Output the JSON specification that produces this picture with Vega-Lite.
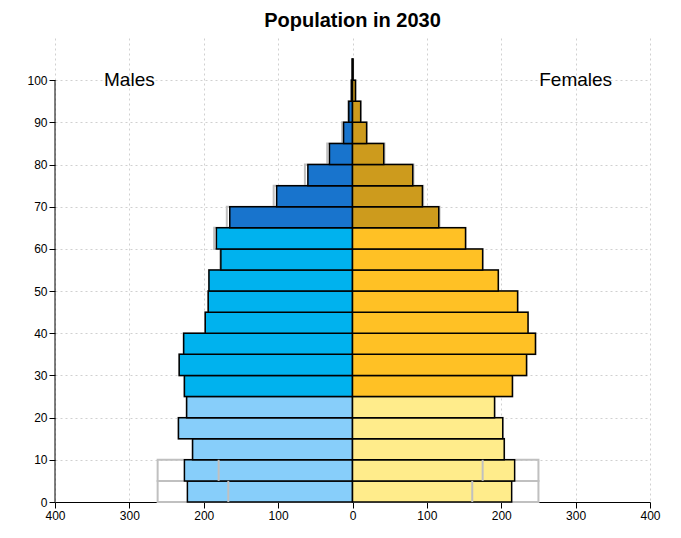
{
  "$schema": "https://vega.github.io/schema/vega-lite/v6.json",
  "autosize": {"type": "none"},
  "padding": {"left": 55, "top": 38, "right": 31, "bottom": 36},
  "width": 595,
  "height": 464,
  "background": "white",
  "view": {"stroke": null},
  "title": {"text": "Population in 2030", "font": "Liberation Sans", "fontSize": 20, "fontWeight": "bold", "color": "black", "offset": 7},
  "data": {"values": [
    {"age": 0, "top": 5, "cls": "M young", "v": -222, "ref": -262, "inner": -167},
    {"age": 5, "top": 10, "cls": "M young", "v": -226, "ref": -262, "inner": -180},
    {"age": 10, "top": 15, "cls": "M young", "v": -215, "ref": -215, "inner": null},
    {"age": 15, "top": 20, "cls": "M young", "v": -234, "ref": -234, "inner": null},
    {"age": 20, "top": 25, "cls": "M young", "v": -223, "ref": -223, "inner": null},
    {"age": 25, "top": 30, "cls": "M mid", "v": -226, "ref": -226, "inner": null},
    {"age": 30, "top": 35, "cls": "M mid", "v": -233, "ref": -233, "inner": null},
    {"age": 35, "top": 40, "cls": "M mid", "v": -227, "ref": -227, "inner": null},
    {"age": 40, "top": 45, "cls": "M mid", "v": -198, "ref": -198, "inner": null},
    {"age": 45, "top": 50, "cls": "M mid", "v": -194, "ref": -194, "inner": null},
    {"age": 50, "top": 55, "cls": "M mid", "v": -193, "ref": -193, "inner": null},
    {"age": 55, "top": 60, "cls": "M mid", "v": -177, "ref": -178, "inner": null},
    {"age": 60, "top": 65, "cls": "M mid", "v": -183, "ref": -186, "inner": null},
    {"age": 65, "top": 70, "cls": "M old", "v": -165, "ref": -169, "inner": null},
    {"age": 70, "top": 75, "cls": "M old", "v": -102, "ref": -106, "inner": null},
    {"age": 75, "top": 80, "cls": "M old", "v": -60, "ref": -64, "inner": null},
    {"age": 80, "top": 85, "cls": "M old", "v": -31, "ref": -34, "inner": null},
    {"age": 85, "top": 90, "cls": "M old", "v": -12, "ref": -14, "inner": null},
    {"age": 90, "top": 95, "cls": "M old", "v": -5, "ref": -6, "inner": null},
    {"age": 95, "top": 100, "cls": "M old", "v": -1.5, "ref": -1.5, "inner": null},
    {"age": 100, "top": 105, "cls": "M old", "v": -0.4, "ref": -0.4, "inner": null},
    {"age": 0, "top": 5, "cls": "F young", "v": 214, "ref": 250, "inner": 161},
    {"age": 5, "top": 10, "cls": "F young", "v": 218, "ref": 250, "inner": 175},
    {"age": 10, "top": 15, "cls": "F young", "v": 204, "ref": 204, "inner": null},
    {"age": 15, "top": 20, "cls": "F young", "v": 202, "ref": 202, "inner": null},
    {"age": 20, "top": 25, "cls": "F young", "v": 191, "ref": 191, "inner": null},
    {"age": 25, "top": 30, "cls": "F mid", "v": 215, "ref": 215, "inner": null},
    {"age": 30, "top": 35, "cls": "F mid", "v": 234, "ref": 234, "inner": null},
    {"age": 35, "top": 40, "cls": "F mid", "v": 246, "ref": 246, "inner": null},
    {"age": 40, "top": 45, "cls": "F mid", "v": 236, "ref": 236, "inner": null},
    {"age": 45, "top": 50, "cls": "F mid", "v": 222, "ref": 222, "inner": null},
    {"age": 50, "top": 55, "cls": "F mid", "v": 196, "ref": 196, "inner": null},
    {"age": 55, "top": 60, "cls": "F mid", "v": 175, "ref": 175, "inner": null},
    {"age": 60, "top": 65, "cls": "F mid", "v": 152, "ref": 152, "inner": null},
    {"age": 65, "top": 70, "cls": "F old", "v": 116, "ref": 117, "inner": null},
    {"age": 70, "top": 75, "cls": "F old", "v": 94, "ref": 95, "inner": null},
    {"age": 75, "top": 80, "cls": "F old", "v": 81, "ref": 82, "inner": null},
    {"age": 80, "top": 85, "cls": "F old", "v": 42, "ref": 43, "inner": null},
    {"age": 85, "top": 90, "cls": "F old", "v": 19, "ref": 19, "inner": null},
    {"age": 90, "top": 95, "cls": "F old", "v": 11, "ref": 11, "inner": null},
    {"age": 95, "top": 100, "cls": "F old", "v": 4, "ref": 4, "inner": null},
    {"age": 100, "top": 105, "cls": "F old", "v": 0.8, "ref": 0.8, "inner": null}
  ]},
  "encoding": {
    "y": {"field": "age", "type": "quantitative", "scale": {"domain": [0, 110], "nice": false},
      "axis": {"title": null, "values": [0,10,20,30,40,50,60,70,80,90,100], "grid": true, "gridDash": [2,3], "gridColor": "#d0d0d0", "domain": false, "tickColor": "black", "labelColor": "black", "labelFontSize": 12, "labelFont": "Liberation Sans", "tickSize": 6, "labelFlush": false}},
    "y2": {"field": "top"}
  },
  "layer": [
    {
      "mark": {"type": "rect", "fill": null, "stroke": "#c0c0c0", "strokeWidth": 2},
      "encoding": {
        "x": {"field": "ref", "type": "quantitative", "scale": {"domain": [-400, 400], "nice": false},
          "axis": {"title": null, "values": [-400,-300,-200,-100,0,100,200,300,400], "labelExpr": "abs(datum.value)", "grid": true, "gridDash": [2,3], "gridColor": "#d0d0d0", "domainColor": "black", "tickColor": "black", "labelColor": "black", "labelFontSize": 12, "labelFont": "Liberation Sans", "tickSize": 6, "labelFlush": false}},
        "x2": {"datum": 0}
      }
    },
    {
      "mark": {"type": "rect", "stroke": "black", "strokeWidth": 1.5},
      "encoding": {
        "x": {"field": "v", "type": "quantitative"},
        "x2": {"datum": 0},
        "fill": {"field": "cls", "type": "nominal", "legend": null,
          "scale": {"domain": ["M young", "M mid", "M old", "F young", "F mid", "F old"],
            "range": ["#87CEFA", "#00B2EE", "#1874CD", "#FFEC8B", "#FFC125", "#CD9B1D"]}}
      }
    },
    {
      "transform": [{"filter": "datum.inner != null"}],
      "mark": {"type": "rule", "stroke": "#c0c0c0", "strokeWidth": 2},
      "encoding": {
        "x": {"field": "inner", "type": "quantitative"}
      }
    },
    {
      "data": {"values": [{"x": -400, "y0": 0, "y1": 100}]},
      "mark": {"type": "rule", "stroke": "black", "strokeWidth": 1},
      "encoding": {
        "x": {"field": "x", "type": "quantitative"},
        "y": {"field": "y0", "type": "quantitative"},
        "y2": {"field": "y1"}
      }
    },
    {
      "data": {"values": [{"label": "Males", "x": -300, "y": 100}, {"label": "Females", "x": 300, "y": 100}]},
      "mark": {"type": "text", "fontSize": 19, "font": "Liberation Sans", "color": "black"},
      "encoding": {
        "x": {"field": "x", "type": "quantitative"},
        "y": {"field": "y", "type": "quantitative"},
        "y2": null,
        "text": {"field": "label"}
      }
    }
  ]
}
